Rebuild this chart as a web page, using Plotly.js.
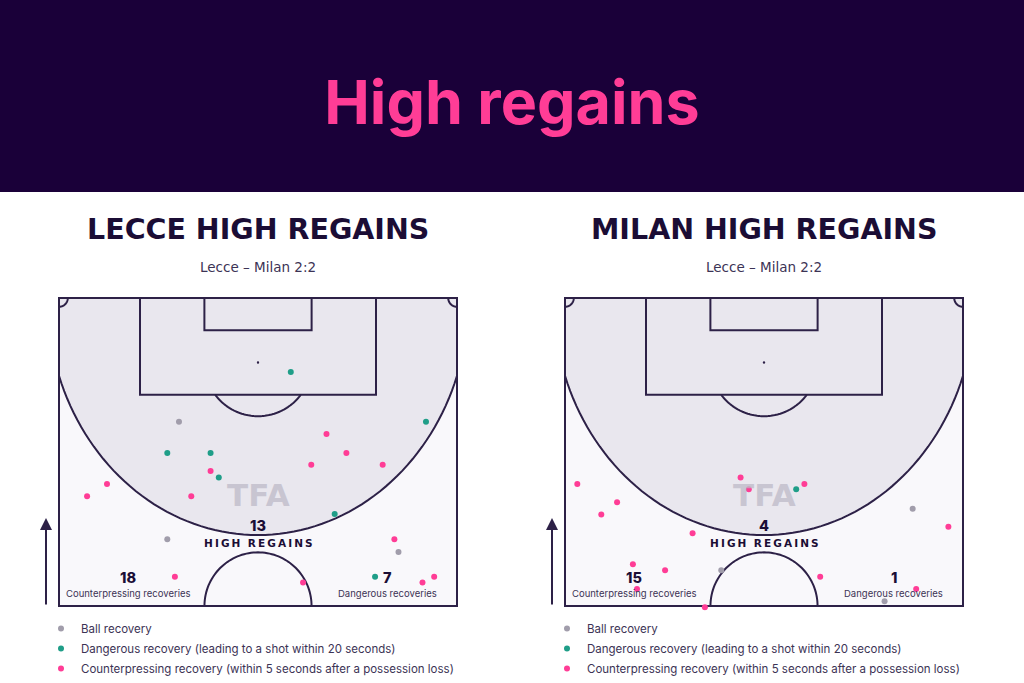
<!DOCTYPE html>
<html>
<head>
<meta charset="utf-8">
<script src="https://cdn.plot.ly/plotly-3.0.1.min.js"></script>
<style>html,body{margin:0;padding:0;background:#fff;overflow:hidden;}#chart{width:1024px;height:683px;}</style>
</head>
<body>
<div id="chart"></div>
<script>
// ---------- data (x = metres across pitch 0..68, d = metres from opponent goal line) ----------
const categories = ['Ball recovery', 'Dangerous recovery (leading to a shot within 20 seconds)', 'Counterpressing recovery (within 5 seconds after a possession loss)'];
const teams = ['LECCE HIGH REGAINS', 'MILAN HIGH REGAINS'];
const matchLabel = 'Lecce – Milan 2:2';
const highRegains = [13, 4];
const counterpressing = [18, 15];
const dangerous = [7, 1];

const lecceBallX = [20.5, 18.5, 58.0];
const lecceBallD = [21.1, 41.1, 43.3];
const lecceDangerX = [39.6, 62.7, 18.5, 25.9, 27.3, 47.1, 54.0];
const lecceDangerD = [12.6, 21.1, 26.4, 26.4, 30.6, 36.8, 47.5];
const lecceCounterX = [45.7, 49.1, 43.1, 55.3, 25.9, 8.2, 4.8, 22.6, 57.3, 19.8, 41.7, 62.1, 64.1];
const lecceCounterD = [23.2, 26.4, 28.4, 28.4, 29.5, 31.7, 33.8, 33.8, 41.1, 47.5, 48.5, 48.5, 47.5];

const milanBallX = [59.4, 26.7, 54.6];
const milanBallD = [35.9, 46.4, 51.7];
const milanDangerX = [39.5];
const milanDangerD = [32.6];
const milanCounterX = [30.0, 31.4, 40.9, 2.1, 8.9, 6.2, 21.8, 65.5, 11.6, 17.1, 43.6, 12.3, 60.0, 23.9];
const milanCounterD = [30.6, 32.6, 31.7, 31.7, 34.8, 36.9, 40.1, 39.0, 45.4, 46.4, 47.5, 49.6, 49.6, 52.7];

// ---------- styles ----------
const FONT = 'Inter, "Noto Sans", sans-serif';
const WIDE = '"DejaVu Sans", Inter, sans-serif';
const DARK = '#1b0d35';
const LINE = '#2d2147';
const TEXT = '#3c3355';
const COLORS = ['#a19dab', '#1f9e88', '#ff3d96'];
const W = 1024, H = 683;

// pitch geometry (metres)
const PW = 68, PL = 52.5;

function arcPath(cx, cy, r, t0, t1, rx) {
  rx = rx || r;
  let p = '';
  const n = 72;
  for (let i = 0; i <= n; i++) {
    const t = t0 + (t1 - t0) * i / n;
    const x = cx + rx * Math.cos(t), y = cy + r * Math.sin(t);
    p += (i === 0 ? 'M' : 'L') + x.toFixed(3) + ',' + y.toFixed(3);
  }
  return p;
}

function pitchShapes(xr, yr) {
  const s = [];
  const base = {xref: xr, yref: yr, layer: 'below'};
  const ln = {color: LINE, width: 2};
  s.push(Object.assign({}, base, {type: 'rect', x0: 0, x1: PW, y0: 0, y1: PL, fillcolor: '#f9f8fb', line: {width: 0}}));
  // high regain zone round the goal
  const a = 36, b = 40.4;
  const t0 = Math.acos((PW / 2) / a);
  const arc = arcPath(PW / 2, 0, b, t0, Math.PI - t0, a);   // runs from x=68 side to x=0 side
  s.push(Object.assign({}, base, {type: 'path', path: 'M' + PW + ',0' + arc.replace(/^M/, 'L') + 'L0,0Z', fillcolor: '#e9e7ee', line: {width: 0}}));
  s.push(Object.assign({}, base, {type: 'path', path: arc, line: ln}));
  // boxes
  s.push(Object.assign({}, base, {type: 'rect', x0: PW / 2 - 20.16, x1: PW / 2 + 20.16, y0: 0, y1: 16.5, line: ln}));
  s.push(Object.assign({}, base, {type: 'rect', x0: PW / 2 - 9.16, x1: PW / 2 + 9.16, y0: 0, y1: 5.5, line: ln}));
  // penalty spot
  s.push(Object.assign({}, base, {type: 'circle', x0: PW / 2 - 0.2, x1: PW / 2 + 0.2, y0: 10.8, y1: 11.2, fillcolor: LINE, line: {width: 0}}));
  // penalty arc
  const ph = Math.asin(5.5 / 9.15);
  s.push(Object.assign({}, base, {type: 'path', path: arcPath(PW / 2, 11, 9.15, ph, Math.PI - ph), line: ln}));
  // centre circle half
  s.push(Object.assign({}, base, {type: 'path', path: arcPath(PW / 2, PL, 9.15, Math.PI, 2 * Math.PI), line: ln}));
  // corner arcs
  s.push(Object.assign({}, base, {type: 'path', path: arcPath(0, 0, 1.5, 0, Math.PI / 2), line: ln}));
  s.push(Object.assign({}, base, {type: 'path', path: arcPath(PW, 0, 1.5, Math.PI / 2, Math.PI), line: ln}));
  // outline
  s.push(Object.assign({}, base, {type: 'rect', x0: 0, x1: PW, y0: 0, y1: PL, line: ln}));
  return s;
}

function sets(ballX, ballD, dX, dD, cX, cD, xa, ya, leg) {
  const xs = [ballX, dX, cX], ds = [ballD, dD, cD];
  return xs.map((x, i) => ({
    type: 'scatter', mode: 'markers', x: x, y: ds[i], xaxis: xa, yaxis: ya,
    name: categories[i], legend: leg, legendgroup: leg + i,
    marker: {color: COLORS[i], size: 6, line: {width: 0}},
    hoverinfo: 'skip'
  }));
}

const data = [].concat(
  sets(lecceBallX, lecceBallD, lecceDangerX, lecceDangerD, lecceCounterX, lecceCounterD, 'x', 'y', 'legend'),
  sets(milanBallX, milanBallD, milanDangerX, milanDangerD, milanCounterX, milanCounterD, 'x2', 'y2', 'legend2')
);

// axes placement: pitch left edge px, top px
const pxm = 5.853, pym = 5.867;
function xdom(left) { const l = left - 0.5 * pxm; return [l / W, (l + 69 * pxm) / W]; }
const yTop = 298 - 0.5 * pym, yBot = 298 + 53.3 * pym;
const ydom = [1 - yBot / H, 1 - yTop / H];
const ax = {showgrid: false, zeroline: false, showticklabels: false, ticks: '', showline: false, fixedrange: true};

const annotations = [];
const centres = [['x', 'y', 258], ['x2', 'y2', 764]];
const spaced = 'H\u2009I\u2009G\u2009H\u2002\u2009R\u2009E\u2009G\u2009A\u2009I\u2009N\u2009S';
centres.forEach((c, i) => {
  const [xr, yr, cx] = c;
  annotations.push({xref: 'paper', yref: 'paper', x: cx / W, y: 1 - 230 / H, text: teams[i], showarrow: false,
    font: {family: WIDE, size: 28.5, weight: 700, color: DARK}, xanchor: 'center', yanchor: 'middle'});
  annotations.push({xref: 'paper', yref: 'paper', x: cx / W, y: 1 - 267 / H, text: matchLabel, showarrow: false,
    font: {family: WIDE, size: 13.5, color: TEXT}, xanchor: 'center', yanchor: 'middle'});
  annotations.push({xref: xr, yref: yr, x: PW / 2, y: 33.6, text: 'TFA', showarrow: false,
    font: {family: WIDE, size: 31, weight: 700, color: 'rgba(190,186,200,0.75)'}});
  annotations.push({xref: xr, yref: yr, x: PW / 2, y: 38.8, text: String(highRegains[i]), showarrow: false,
    font: {family: FONT, size: 14.5, weight: 800, color: DARK}});
  annotations.push({xref: xr, yref: yr, x: PW / 2, y: 41.7, text: spaced, showarrow: false,
    font: {family: WIDE, size: 10.5, weight: 700, color: DARK}});
  annotations.push({xref: xr, yref: yr, x: 11.8, y: 47.6, text: String(counterpressing[i]), showarrow: false,
    font: {family: FONT, size: 14.5, weight: 800, color: DARK}});
  annotations.push({xref: xr, yref: yr, x: 11.8, y: 50.3, text: 'Counterpressing recoveries', showarrow: false,
    font: {family: FONT, size: 9.5, color: TEXT}});
  annotations.push({xref: xr, yref: yr, x: 56.2, y: 47.6, text: String(dangerous[i]), showarrow: false,
    font: {family: FONT, size: 14.5, weight: 800, color: DARK}});
  annotations.push({xref: xr, yref: yr, x: 56.2, y: 50.3, text: 'Dangerous recoveries', showarrow: false,
    font: {family: FONT, size: 9.5, color: TEXT}});
  // direction arrow
  annotations.push({xref: 'paper', yref: 'paper', x: (cx - 212) / W, y: 1 - 518 / H, ax: 0, ay: 88, text: '',
    showarrow: true, arrowhead: 2, arrowsize: 1.2, arrowwidth: 2, arrowcolor: LINE});
});

const layout = {
  width: W, height: H,
  margin: {l: 0, r: 0, t: 0, b: 0, autoexpand: false},
  paper_bgcolor: '#ffffff', plot_bgcolor: 'rgba(0,0,0,0)',
  title: {text: 'High regains', x: 0.5, xanchor: 'center', y: 1 - 103 / H, yanchor: 'middle', yref: 'paper',
    font: {family: FONT, size: 61, weight: 700, color: '#ff3d96'}},
  xaxis: Object.assign({}, ax, {domain: xdom(59), range: [-0.5, 68.5]}),
  yaxis: Object.assign({}, ax, {domain: ydom, range: [53.3, -0.5]}),
  xaxis2: Object.assign({}, ax, {domain: xdom(565), range: [-0.5, 68.5]}),
  yaxis2: Object.assign({}, ax, {domain: ydom, range: [53.3, -0.5]}),
  shapes: [{type: 'rect', xref: 'paper', yref: 'paper', x0: 0, x1: 1, y0: 1 - 192 / H, y1: 1, fillcolor: '#1a0039', line: {width: 0}, layer: 'below'}]
    .concat(pitchShapes('x', 'y'), pitchShapes('x2', 'y2')),
  annotations: annotations,
  showlegend: true,
  legend: {x: 41 / W, y: 1 - 614 / H, xanchor: 'left', yanchor: 'top', bgcolor: 'rgba(0,0,0,0)', tracegroupgap: 1,
    font: {family: FONT, size: 11.5, color: TEXT}},
  legend2: {x: 547 / W, y: 1 - 614 / H, xanchor: 'left', yanchor: 'top', bgcolor: 'rgba(0,0,0,0)', tracegroupgap: 1,
    font: {family: FONT, size: 11.5, color: TEXT}}
};

Plotly.newPlot('chart', data, layout, {displayModeBar: false, staticPlot: true});
</script>
</body>
</html>
